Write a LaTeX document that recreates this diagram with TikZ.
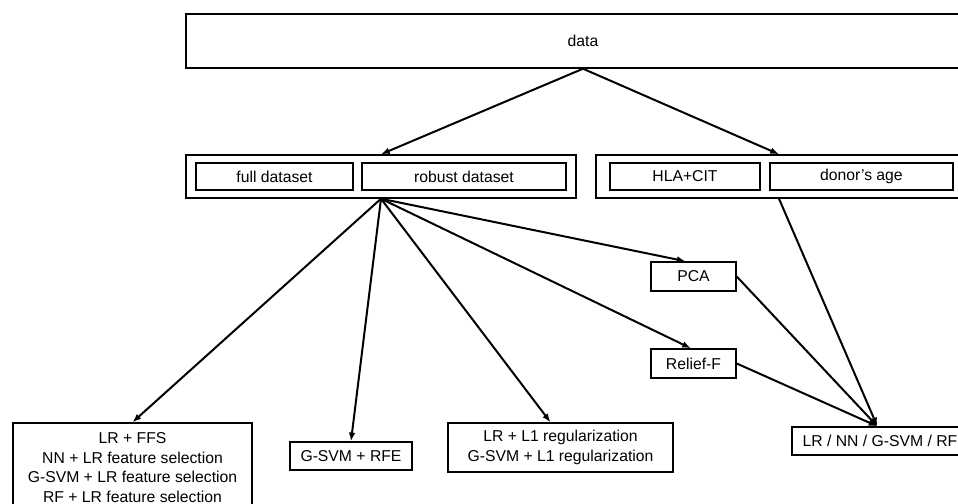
\documentclass[tikz,border=0pt]{standalone}
\usepackage{fontspec}
\setmainfont{Liberation Sans}
\usepackage{tikz}
\usetikzlibrary{positioning,
                arrows.meta}

\begin{document}
\begin{tikzpicture}[x=0.75pt,y=-0.75pt]

\tikzset{
flowbox/.style={
draw=black,
line width=1.1pt,
inner sep=0pt,
align=center,
font=\fontsize{11.8}{14.6}\selectfont
},
flowarrow/.style={
line width=1.5pt,
-{Latex[length=6.5pt,width=5pt]}
}
}

\useasboundingbox (0,0) rectangle (958,504);

%--------------------------------------------------
% TOP
%--------------------------------------------------

\node[flowbox,minimum width=595.5pt,minimum height=40.5pt] (data) at (583,41) {data};

%--------------------------------------------------
% DATASETS
%--------------------------------------------------

\node[flowbox,minimum width=292.5pt,minimum height=32.25pt] (setL) at (381,176.5) {};
\node[flowbox,minimum width=117.75pt,minimum height=20.25pt] (full) at (274.5,176.5) {full dataset};
\node[flowbox,minimum width=153pt,minimum height=20.25pt] (robust) at (464,176.5) {robust dataset};

\node[flowbox,minimum width=274.5pt,minimum height=32.25pt] (setR) at (779,176.5) {};
\node[flowbox,minimum width=112.5pt,minimum height=20.25pt] (hla) at (685,176.5) {HLA+CIT};
\node[flowbox,minimum width=137.25pt,minimum height=20.25pt] (age) at (861.5,176.5) {donor's age};

%--------------------------------------------------
% FILTERS
%--------------------------------------------------

\node[flowbox,minimum width=63.75pt,minimum height=21.75pt] (pca) at (693.5,276.5) {PCA};
\node[flowbox,minimum width=63.75pt,minimum height=21.75pt] (relief) at (693.5,363.5) {Relief-F};

%--------------------------------------------------
% MODELS
%--------------------------------------------------

\node[flowbox,minimum width=179.25pt,minimum height=66.75pt] (ffs) at (132.5,467.5)
  {LR + FFS\\NN + LR feature selection\\G-SVM + LR feature selection\\RF + LR feature selection};
\node[flowbox,minimum width=91.5pt,minimum height=21pt] (rfe) at (351,456) {G-SVM + RFE};
\node[flowbox,minimum width=168.75pt,minimum height=36.75pt] (lone) at (560.5,447.5)
  {LR + L1 regularization\\G-SVM + L1 regularization};
\node[flowbox,minimum width=132pt,minimum height=21pt] (models) at (880,441) {LR / NN / G-SVM / RF};

%--------------------------------------------------
% ARROWS
%--------------------------------------------------

\draw[flowarrow] (data.south) -- (setL.north);
\draw[flowarrow] (data.south) -- (setR.north);

\draw[flowarrow] (setL.south) -- (ffs.north);
\draw[flowarrow] (setL.south) -- (rfe.north);
\draw[flowarrow] (setL.south) -- ([xshift=-7.5]lone.north);
\draw[flowarrow] (setL.south) -- ([xshift=-6]pca.north);
\draw[flowarrow] (setL.south) -- ([xshift=-2]relief.north);

\draw[flowarrow] (setR.south) -- ([xshift=-2]models.north);
\draw[flowarrow] (pca.east) -- ([xshift=-2]models.north);
\draw[flowarrow] (relief.east) -- ([xshift=-2]models.north);

\end{tikzpicture}
\end{document}
